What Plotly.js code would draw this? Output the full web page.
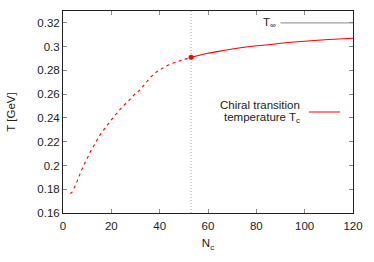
<!DOCTYPE html>
<html>
<head>
<meta charset="utf-8">
<script src="https://cdn.plot.ly/plotly-3.0.1.min.js"></script>
<style>html,body{margin:0;padding:0;background:#fff;}#chart{width:374px;height:262px;}</style>
</head>
<body>
<div id="chart"></div>
<script>
// Dashed (crossover) part of the chiral transition temperature
const ncDashed = [3, 3.6, 5, 6.3, 7.45, 8.8, 10.2, 11.6, 13.25, 14.9, 16.7, 18.8, 20.6, 22.9, 25.0, 27.3, 29.5, 31.9, 34.0, 36.0, 38.4, 40.9, 44.0, 47.1, 49.8, 53];
const tDashed  = [0.1765, 0.1771, 0.1828, 0.189, 0.1949, 0.2011, 0.2067, 0.2126, 0.2182, 0.2244, 0.2295, 0.2351, 0.2399, 0.2455, 0.2503, 0.2548, 0.2596, 0.2638, 0.2689, 0.2737, 0.2784, 0.2815, 0.2849, 0.2872, 0.2891, 0.2910];
// Solid part
const ncSolid = [53, 56, 60, 66.4, 70, 80, 87.1, 90, 100, 110, 120];
const tSolid  = [0.2910, 0.2926, 0.2944, 0.2967, 0.2980, 0.3007, 0.3020, 0.3029, 0.3046, 0.3060, 0.3071];
// Critical point / vertical marker
const ncCrit = 53;
const tCrit = 0.2910;
// Asymptotic value
const ncInf = [90, 120];
const tInfVal = 0.32;
const yRange = [0.16, 0.33];
const xTicks = [0, 20, 40, 60, 80, 100, 120];
const yTicks = [0.16, 0.18, 0.2, 0.22, 0.24, 0.26, 0.28, 0.3, 0.32];
const yTickText = ['0.16', '0.18', '0.2', '0.22', '0.24', '0.26', '0.28', '0.3', '0.32'];
const legendLines = ['Chiral transition', 'temperature T<sub>c</sub>'];

const red = '#ff0000';
const font = {family: 'Liberation Sans, Arial, sans-serif', size: 11.5, color: '#222'};

const traces = [
  {x: [ncCrit, ncCrit], y: yRange, mode: 'lines', line: {color: '#aaa', width: 1, dash: '1px,2px'}, hoverinfo: 'skip'},
  {x: ncDashed, y: tDashed, mode: 'lines', line: {color: red, width: 1.1, dash: '3px,3.5px', shape: 'spline'}},
  {x: ncSolid, y: tSolid, mode: 'lines', line: {color: red, width: 1.1, shape: 'spline'}},
  {x: [ncCrit], y: [tCrit], mode: 'markers', marker: {color: red, size: 5}},
  {x: ncInf, y: [tInfVal, tInfVal], mode: 'lines', line: {color: '#a0a0a0', width: 1.3}}
];

const axisCommon = {
  showgrid: false, zeroline: false, showline: true, linecolor: '#222', linewidth: 1,
  mirror: 'ticks', ticks: 'inside', ticklen: 4, tickcolor: '#888', tickwidth: 1,
  tickfont: font
};

const layout = {
  width: 374, height: 262,
  margin: {l: 63, r: 21, t: 11, b: 49},
  paper_bgcolor: '#fff', plot_bgcolor: '#fff',
  showlegend: false,
  font: font,
  xaxis: Object.assign({}, axisCommon, {
    range: [0, 120], tickvals: xTicks, ticktext: xTicks.map(String),
    ticklabelstandoff: 2,
    title: {text: 'N<sub>c</sub>', font: font, standoff: 8}
  }),
  yaxis: Object.assign({}, axisCommon, {
    range: yRange, tickvals: yTicks, ticktext: yTickText,
    title: {text: 'T [GeV]', font: font, standoff: 19}
  }),
  annotations: [
    {x: 89, y: tInfVal, xref: 'x', yref: 'y', text: 'T<sub>∞</sub>', showarrow: false, xanchor: 'right', yanchor: 'middle', font: font},
    {x: 302, y: 105, xref: 'paper', yref: 'paper', text: legendLines[0], showarrow: false, xanchor: 'right', yanchor: 'middle', font: font},
    {x: 302, y: 118, xref: 'paper', yref: 'paper', text: legendLines[1], showarrow: false, xanchor: 'right', yanchor: 'middle', font: font}
  ],
  shapes: [
    {type: 'line', xref: 'paper', yref: 'paper', x0: 309, x1: 340, y0: 112, y1: 112, line: {color: red, width: 1}}
  ]
};

// convert pixel positions for legend block into paper fractions
const pw = 374 - 63 - 21, ph = 262 - 11 - 49;
layout.annotations.slice(1).forEach(a => { a.x = (a.x - 63) / pw; a.y = 1 - (a.y - 11) / ph; });
layout.shapes.forEach(s => { s.x0 = (s.x0 - 63) / pw; s.x1 = (s.x1 - 63) / pw; s.y0 = 1 - (s.y0 - 11) / ph; s.y1 = 1 - (s.y1 - 11) / ph; });

Plotly.newPlot('chart', traces, layout, {displayModeBar: false, staticPlot: true});
</script>
</body>
</html>
